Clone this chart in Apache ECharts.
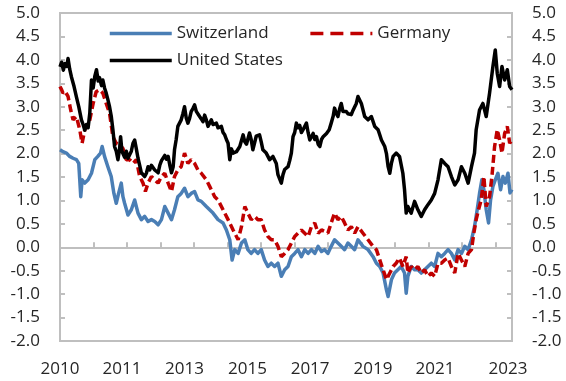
<!DOCTYPE html>
<html>
<head>
<meta charset="utf-8">
<script src="https://cdn.jsdelivr.net/npm/echarts@6/dist/echarts.min.js"></script>
<style>
  html, body { margin: 0; padding: 0; background: #fff; }
  #chart { width: 566px; height: 381px; }
</style>
</head>
<body>
<div id="chart"></div>
<script>
// 10-year government bond yields, % (dates as decimal years)
const chYears = [2010.00,2010.09,2010.19,2010.29,2010.39,2010.49,2010.56,2010.59,2010.62,2010.66,2010.74,2010.84,2010.94,2011.04,2011.13,2011.21,2011.26,2011.33,2011.43,2011.53,2011.61,2011.68,2011.75,2011.83,2011.88,2011.93,2012.03,2012.13,2012.23,2012.33,2012.43,2012.53,2012.63,2012.73,2012.83,2012.93,2013.03,2013.13,2013.23,2013.33,2013.42,2013.52,2013.62,2013.72,2013.82,2013.92,2014.02,2014.12,2014.22,2014.37,2014.42,2014.57,2014.72,2014.87,2014.97,2015.07,2015.14,2015.22,2015.32,2015.42,2015.52,2015.61,2015.71,2015.81,2015.91,2016.01,2016.11,2016.21,2016.31,2016.41,2016.51,2016.61,2016.71,2016.81,2016.91,2017.01,2017.11,2017.21,2017.31,2017.41,2017.51,2017.61,2017.71,2017.81,2017.90,2018.00,2018.10,2018.20,2018.30,2018.40,2018.50,2018.60,2018.70,2018.80,2018.90,2019.05,2019.20,2019.35,2019.45,2019.55,2019.65,2019.75,2019.80,2019.90,2019.99,2020.09,2020.19,2020.29,2020.34,2020.39,2020.49,2020.59,2020.69,2020.79,2020.89,2020.99,2021.09,2021.19,2021.29,2021.39,2021.49,2021.59,2021.69,2021.79,2021.89,2021.99,2022.09,2022.19,2022.29,2022.38,2022.46,2022.53,2022.60,2022.66,2022.73,2022.80,2022.86,2022.93,2023.00,2023.08,2023.16,2023.23,2023.30,2023.38,2023.44,2023.50];
const chYield = [2.08,2.04,2.01,1.94,1.90,1.87,1.79,1.44,1.08,1.44,1.37,1.44,1.58,1.87,1.94,2.01,2.15,1.94,1.72,1.51,1.15,0.94,1.15,1.37,1.08,0.94,0.69,0.80,1.01,0.73,0.59,0.66,0.55,0.59,0.55,0.48,0.59,0.87,0.73,0.59,0.80,1.08,1.15,1.26,1.08,1.15,1.19,1.01,0.98,0.87,0.84,0.73,0.59,0.52,0.37,0.16,-0.27,-0.05,-0.13,0.09,0.16,-0.05,-0.13,-0.05,-0.13,-0.05,-0.27,-0.41,-0.34,-0.41,-0.34,-0.62,-0.48,-0.41,-0.20,-0.13,-0.05,-0.20,-0.05,-0.13,-0.05,-0.13,0.02,-0.09,-0.05,-0.13,0.02,0.16,0.09,0.02,-0.05,0.09,0.02,-0.05,0.16,0.02,-0.05,-0.20,-0.34,-0.41,-0.55,-0.91,-1.05,-0.69,-0.55,-0.48,-0.41,-0.55,-0.98,-0.62,-0.41,-0.48,-0.48,-0.55,-0.48,-0.41,-0.34,-0.41,-0.13,-0.20,-0.13,-0.05,-0.13,-0.27,-0.05,-0.13,0.02,-0.05,0.16,0.44,0.80,1.15,1.44,1.23,0.80,0.52,1.01,1.30,1.44,1.58,1.23,1.51,1.37,1.58,1.16,1.23];

const deYears = [2010.00,2010.05,2010.09,2010.15,2010.24,2010.32,2010.39,2010.49,2010.59,2010.66,2010.74,2010.89,2010.99,2011.08,2011.18,2011.28,2011.38,2011.48,2011.58,2011.68,2011.78,2011.88,2011.98,2012.08,2012.18,2012.28,2012.38,2012.48,2012.55,2012.63,2012.73,2012.83,2012.93,2013.03,2013.13,2013.23,2013.33,2013.42,2013.52,2013.62,2013.72,2013.82,2013.92,2014.02,2014.12,2014.22,2014.37,2014.47,2014.62,2014.72,2014.87,2015.02,2015.17,2015.32,2015.42,2015.52,2015.61,2015.71,2015.81,2015.91,2016.01,2016.11,2016.21,2016.31,2016.41,2016.51,2016.61,2016.71,2016.81,2016.91,2017.01,2017.11,2017.21,2017.31,2017.41,2017.51,2017.61,2017.71,2017.81,2017.90,2018.00,2018.10,2018.20,2018.30,2018.40,2018.50,2018.60,2018.70,2018.80,2018.90,2019.05,2019.20,2019.35,2019.45,2019.55,2019.65,2019.75,2019.85,2019.95,2020.04,2020.14,2020.24,2020.34,2020.39,2020.49,2020.59,2020.69,2020.79,2020.89,2020.99,2021.09,2021.19,2021.29,2021.39,2021.49,2021.59,2021.69,2021.79,2021.89,2021.99,2022.09,2022.19,2022.29,2022.36,2022.43,2022.50,2022.58,2022.66,2022.73,2022.83,2022.90,2022.98,2023.06,2023.13,2023.20,2023.28,2023.36,2023.43,2023.50];
const deYield = [3.43,3.36,3.29,3.33,3.22,2.93,2.72,2.79,2.51,2.22,2.51,2.72,3.07,3.32,3.36,3.29,3.07,2.86,2.36,2.22,2.19,2.11,1.87,1.87,1.79,1.87,1.51,1.37,1.19,1.37,1.51,1.44,1.37,1.51,1.58,1.37,1.19,1.51,1.65,1.72,2.01,1.79,1.87,1.79,1.65,1.58,1.44,1.30,1.08,1.01,0.80,0.59,0.37,0.16,0.44,0.87,0.73,0.59,0.66,0.59,0.59,0.37,0.23,0.16,0.16,0.02,-0.20,-0.13,-0.05,0.09,0.23,0.30,0.37,0.30,0.23,0.44,0.52,0.30,0.37,0.34,0.30,0.52,0.73,0.59,0.66,0.52,0.37,0.44,0.30,0.44,0.30,0.16,0.02,-0.05,-0.27,-0.48,-0.69,-0.55,-0.41,-0.34,-0.23,-0.41,-0.20,-0.55,-0.41,-0.48,-0.41,-0.55,-0.48,-0.62,-0.55,-0.62,-0.34,-0.34,-0.27,-0.23,-0.41,-0.55,-0.13,-0.27,-0.41,-0.13,-0.05,0.30,0.59,0.80,1.01,1.51,0.87,1.08,1.51,2.15,2.51,2.29,2.01,2.43,2.58,2.22,2.29];

const usYears = [2010.00,2010.05,2010.10,2010.15,2010.20,2010.24,2010.29,2010.34,2010.42,2010.49,2010.56,2010.64,2010.69,2010.74,2010.79,2010.84,2010.89,2010.94,2010.99,2011.04,2011.09,2011.14,2011.18,2011.24,2011.28,2011.33,2011.38,2011.43,2011.48,2011.53,2011.58,2011.63,2011.68,2011.73,2011.78,2011.81,2011.85,2011.88,2011.93,2011.98,2012.03,2012.08,2012.13,2012.18,2012.23,2012.28,2012.33,2012.38,2012.43,2012.48,2012.53,2012.58,2012.63,2012.68,2012.73,2012.78,2012.83,2012.88,2012.93,2012.98,2013.03,2013.08,2013.13,2013.18,2013.23,2013.28,2013.33,2013.38,2013.42,2013.47,2013.52,2013.57,2013.62,2013.67,2013.72,2013.77,2013.82,2013.87,2013.92,2013.97,2014.02,2014.07,2014.12,2014.17,2014.22,2014.27,2014.32,2014.37,2014.42,2014.52,2014.57,2014.67,2014.72,2014.82,2014.87,2014.92,2014.97,2015.02,2015.07,2015.12,2015.17,2015.27,2015.37,2015.47,2015.52,2015.57,2015.66,2015.71,2015.76,2015.86,2015.96,2016.01,2016.06,2016.16,2016.26,2016.36,2016.46,2016.51,2016.56,2016.61,2016.66,2016.71,2016.81,2016.86,2016.91,2016.96,2017.01,2017.06,2017.11,2017.16,2017.21,2017.26,2017.36,2017.41,2017.46,2017.51,2017.56,2017.61,2017.66,2017.71,2017.76,2017.81,2017.86,2017.96,2018.04,2018.10,2018.16,2018.20,2018.25,2018.30,2018.35,2018.40,2018.45,2018.50,2018.55,2018.60,2018.65,2018.70,2018.75,2018.85,2018.90,2019.00,2019.05,2019.10,2019.20,2019.30,2019.40,2019.50,2019.55,2019.60,2019.70,2019.75,2019.80,2019.85,2019.90,2019.95,2020.04,2020.14,2020.24,2020.29,2020.34,2020.39,2020.49,2020.59,2020.69,2020.79,2020.89,2020.99,2021.09,2021.19,2021.29,2021.39,2021.49,2021.59,2021.69,2021.79,2021.89,2021.99,2022.09,2022.19,2022.29,2022.38,2022.43,2022.53,2022.63,2022.73,2022.83,2022.93,2023.00,2023.06,2023.13,2023.20,2023.28,2023.36,2023.43,2023.50];
const usYield = [3.85,3.95,3.78,3.92,3.86,4.03,3.80,3.64,3.43,3.21,3.00,2.72,2.62,2.50,2.62,2.55,2.86,3.57,3.40,3.65,3.79,3.55,3.62,3.45,3.57,3.40,3.29,3.15,3.00,2.80,2.51,2.15,2.05,1.87,2.10,2.36,2.05,2.01,1.92,2.05,1.90,1.94,2.05,2.22,2.29,2.10,1.90,1.75,1.59,1.62,1.51,1.58,1.72,1.65,1.75,1.72,1.65,1.62,1.59,1.75,1.85,1.87,1.96,1.88,1.94,1.75,1.59,1.72,2.08,2.30,2.58,2.62,2.72,2.85,3.00,2.76,2.65,2.75,2.90,2.96,3.04,2.90,2.86,2.79,2.74,2.68,2.82,2.72,2.58,2.72,2.62,2.65,2.55,2.58,2.45,2.40,2.30,2.22,1.87,2.10,2.01,2.04,2.15,2.40,2.25,2.20,2.44,2.30,2.08,2.37,2.40,2.25,2.08,2.01,1.87,1.94,1.79,1.55,1.51,1.37,1.55,1.66,1.72,1.85,2.01,2.36,2.45,2.65,2.55,2.60,2.45,2.51,2.65,2.45,2.29,2.36,2.43,2.30,2.36,2.20,2.15,2.30,2.36,2.43,2.51,2.65,2.80,2.97,2.86,2.79,2.95,3.07,2.90,2.86,2.90,2.85,2.88,2.83,2.92,3.07,3.22,3.07,3.10,2.79,2.72,2.79,2.58,2.51,2.40,2.29,2.15,2.00,1.72,1.58,1.80,1.94,2.01,1.94,1.58,1.23,0.73,0.87,0.73,0.98,0.80,0.66,0.80,0.91,1.01,1.15,1.44,1.87,1.79,1.72,1.51,1.33,1.44,1.72,1.58,1.37,1.72,2.01,2.51,2.93,3.07,2.79,3.29,3.86,4.21,3.71,3.43,3.86,3.57,3.79,3.43,3.36];

// Bottom axis labels: one every ~1.87 years, printed as the year
const xLabelAt = [2010, 2011.85, 2013.72, 2015.6, 2017.47, 2019.35, 2021.2, 2023.38];
const yTicks = { min: -2, max: 5, step: 0.5 };
const xRange = { min: 2010, max: 2023.5 };

const pairs = (xs, ys) => xs.map((x, i) => [x, ys[i]]);

const FONT = '"Open Sans", "Noto Sans", sans-serif';
const TEXT = '#262626';
const AXIS = '#bfbfbf';
const BLUE = '#4a7eb5';
const RED = '#c00000';
const BLACK = '#000000';

const yAxisBase = {
  type: 'value',
  min: yTicks.min, max: yTicks.max, interval: yTicks.step,
  axisLine: { show: true, lineStyle: { color: AXIS, width: 2 } },
  axisTick: { show: true, inside: true, length: 5, lineStyle: { color: AXIS, width: 2 } },
  splitLine: { show: false },
  axisLabel: {
    margin: 20, fontFamily: FONT, fontSize: 17, color: TEXT,
    formatter: v => v.toFixed(1)
  }
};

const legendBase = {
  left: 103, itemWidth: 62, itemHeight: 14, itemGap: 40,
  itemStyle: { opacity: 0 },
  textStyle: { fontFamily: FONT, fontSize: 17, color: TEXT, padding: [0, 0, 0, 0] }
};

const chart = echarts.init(document.getElementById('chart'), null, { renderer: 'canvas' });
chart.setOption({
  animation: false,
  backgroundColor: '#ffffff',
  grid: { left: 60, right: 54, top: 13, bottom: 40, show: true, borderColor: AXIS, borderWidth: 2, containLabel: false },
  legend: [
    Object.assign({}, legendBase, {
      top: 20,
      data: [
        { name: 'Switzerland', lineStyle: { width: 3.5 } },
        { name: 'Germany', lineStyle: { width: 3.5, type: [13, 7] } }
      ]
    }),
    Object.assign({}, legendBase, {
      top: 47,
      data: [{ name: 'United States', lineStyle: { width: 3.5 } }]
    })
  ],
  xAxis: [
    {
      type: 'value', min: xRange.min, max: xRange.max, interval: 1,
      axisLine: { show: true, onZero: true, lineStyle: { color: AXIS, width: 2 } },
      axisTick: { show: true, inside: true, length: 5, lineStyle: { color: AXIS, width: 2 } },
      axisLabel: { show: false },
      splitLine: { show: false }
    },
    {
      type: 'value', min: xRange.min, max: xRange.max, position: 'bottom',
      axisLine: { show: true, onZero: false, lineStyle: { color: AXIS, width: 2 } },
      axisTick: { show: false },
      splitLine: { show: false },
      axisLabel: {
        customValues: xLabelAt,
        margin: 20, fontFamily: FONT, fontSize: 17, color: TEXT,
        formatter: v => String(Math.floor(v))
      }
    }
  ],
  yAxis: [
    Object.assign({}, yAxisBase, { position: 'left' }),
    Object.assign({}, yAxisBase, { position: 'right' })
  ],
  series: [
    {
      name: 'Switzerland', type: 'line', symbol: 'none', showSymbol: false,
      data: pairs(chYears, chYield),
      lineStyle: { color: BLUE, width: 3.5, join: 'round' }, itemStyle: { color: BLUE }
    },
    {
      name: 'Germany', type: 'line', symbol: 'none', showSymbol: false,
      data: pairs(deYears, deYield),
      lineStyle: { color: RED, width: 3.5, type: [8, 4] }, itemStyle: { color: RED }
    },
    {
      name: 'United States', type: 'line', symbol: 'none', showSymbol: false,
      data: pairs(usYears, usYield),
      lineStyle: { color: BLACK, width: 3.5, join: 'round' }, itemStyle: { color: BLACK }
    }
  ]
});
</script>
</body>
</html>
